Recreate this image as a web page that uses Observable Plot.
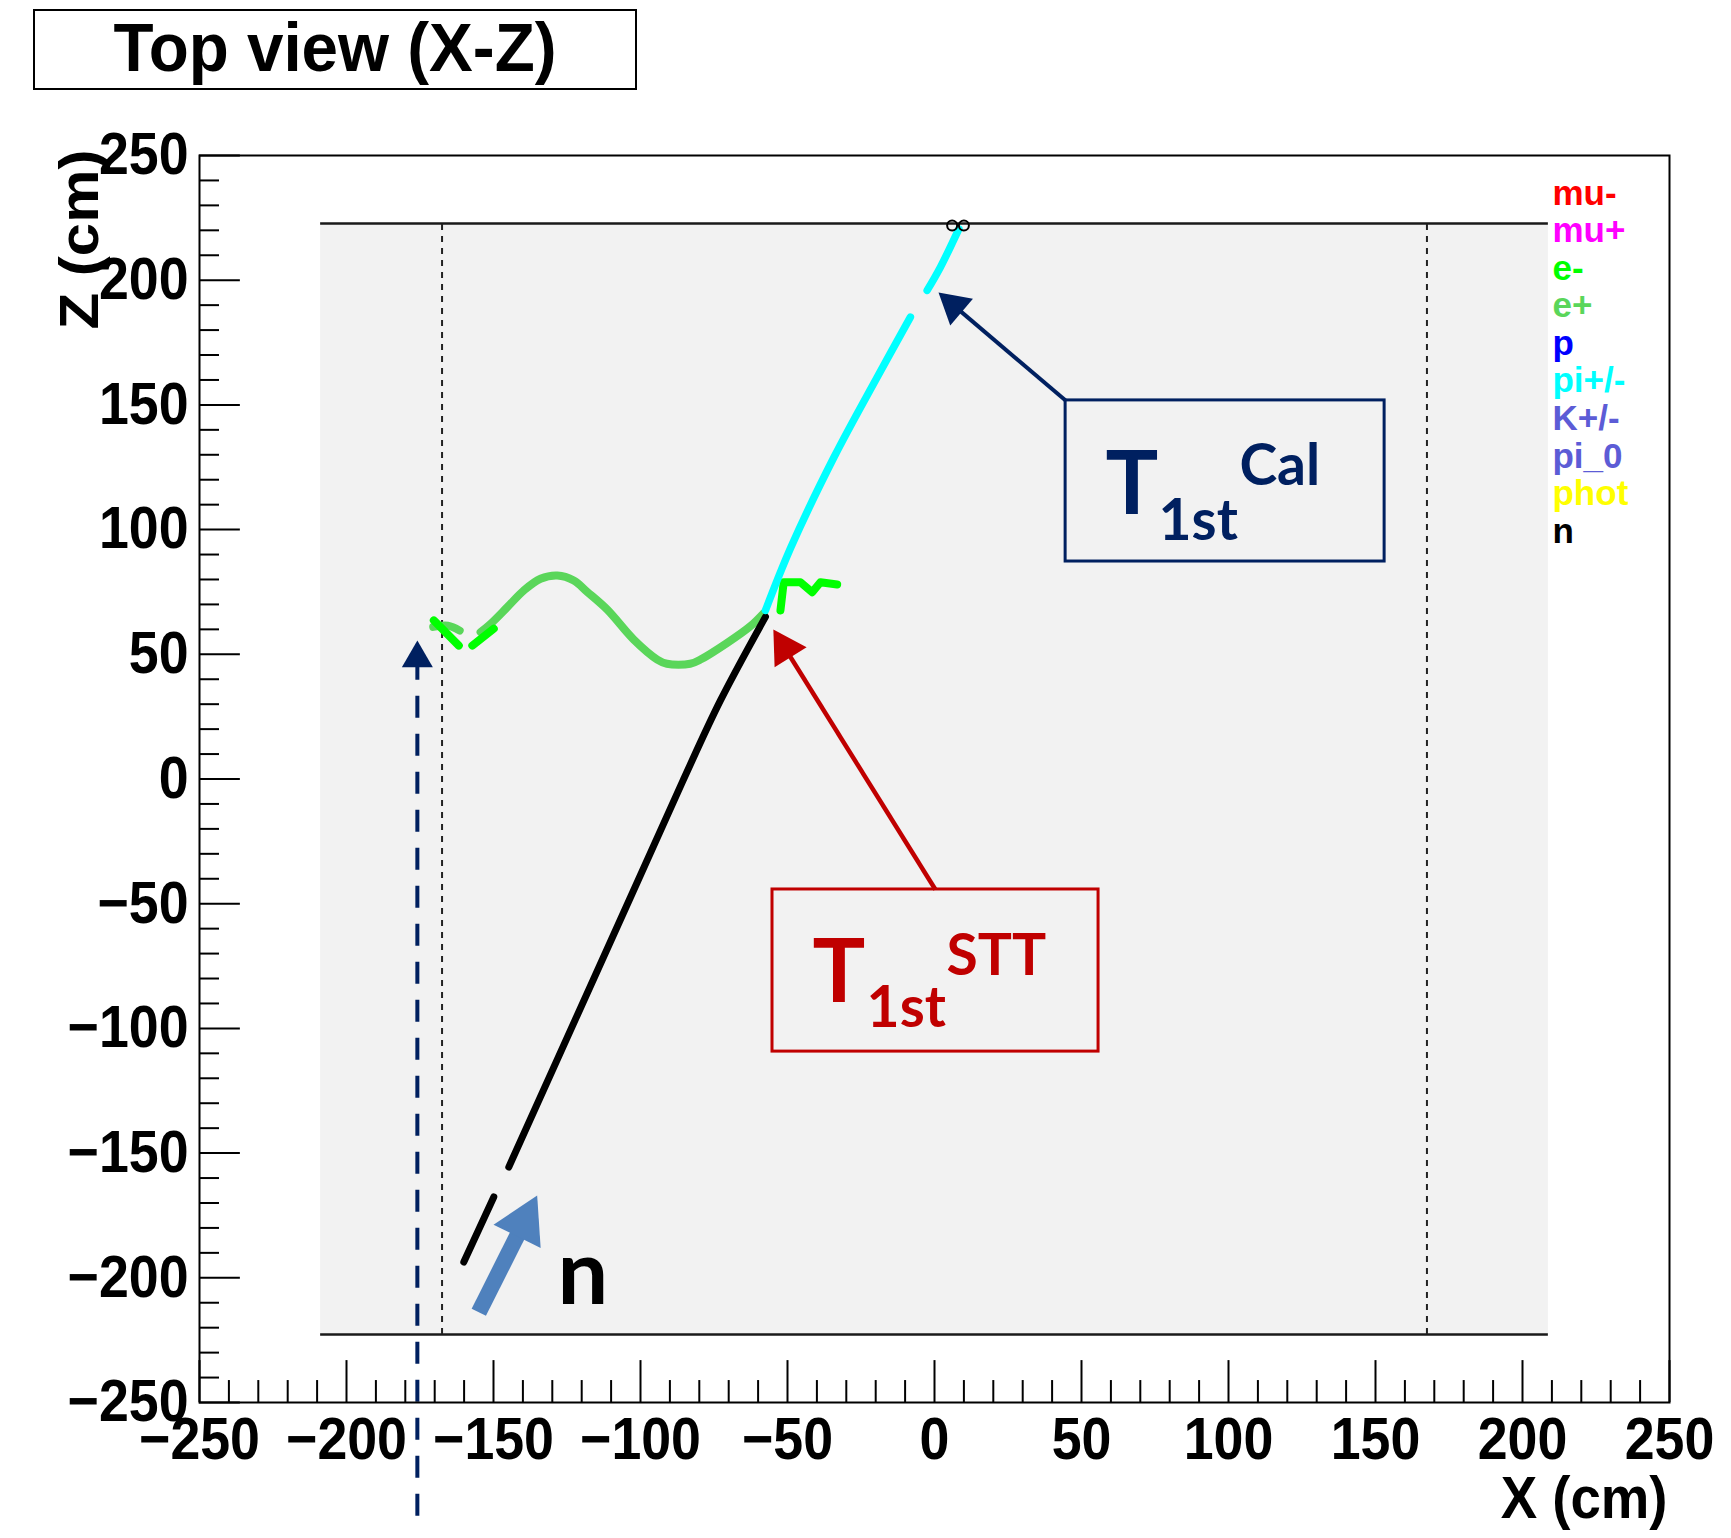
<!DOCTYPE html>
<html><head><meta charset="utf-8">
<script src="https://cdn.jsdelivr.net/npm/d3@7"></script>
<script src="https://cdn.jsdelivr.net/npm/@observablehq/plot@0.6"></script>
<style>
body{margin:0;background:#fff;}
#wrap{position:relative;width:1731px;height:1538px;}
#title{position:absolute;z-index:2;left:33px;top:9px;width:600px;height:77px;border:2px solid #000;background:#fff;}
#title span{position:absolute;left:0;right:0;top:2px;text-align:center;font:bold 69px "Liberation Sans",Arial,sans-serif;line-height:69px;transform:scaleX(0.95);white-space:nowrap;}
</style></head><body>
<div id="wrap"><div id="title"><span>Top view (X-Z)</span></div></div>
<script>
// ---------- axes ----------
const xMajor = [-250, -200, -150, -100, -50, 0, 50, 100, 150, 200, 250];
const yMajor = [-250, -200, -150, -100, -50, 0, 50, 100, 150, 200, 250];
const xMinor = d3.range(-250, 251, 10).filter(v => v % 50 !== 0);
const yMinor = d3.range(-250, 251, 10).filter(v => v % 50 !== 0);
const fmt = d => (d < 0 ? "\u2212" + Math.abs(d) : String(d));

// ---------- detector ----------
const detectorX = [-208.8, 208.8];
const detectorZ = [-222.7, 222.7];
const dashedX = [-167.5, 167.5];

// ---------- tracks (x, z in cm) ----------
const neutronSegs = [
  [[-160.1, -193.7], [-149.9, -167.6]],
  [[-144.8, -155.6], [-103.4, -47.4], [-85.3, 0.0], [-72.8, 31.5], [-57.5, 65.0]]
];
const pionSegs = [
  [[-57.5, 67.6], [-48.8, 93.0], [-34.2, 129.0], [-19.5, 161.1], [-8.2, 185.2]],
  [[-2.5, 195.9], [2.0, 205.2], [8.3, 220.6]]
];
const positronSegs = [
  [[-58.0, 66.6], [-62.6, 61.3], [-70.5, 54.6], [-79.6, 47.9], [-83.1, 46.2], [-91.0, 46.2],
   [-94.3, 47.9], [-102.3, 55.9], [-111.3, 67.9], [-118.1, 75.0], [-122.7, 79.6], [-128.3, 81.6],
   [-134.0, 80.3], [-139.7, 75.6], [-145.3, 68.9], [-151.0, 62.2], [-154.4, 58.9]],
  [[-170.5, 61.0], [-165.5, 61.5], [-161.5, 59.5]]
];
const electronSegs = [
  [[-170.3, 63.6], [-161.8, 53.5]],
  [[-157.2, 53.5], [-149.9, 60.3]],
  [[-52.4, 67.6], [-51.3, 78.9], [-45.6, 78.9], [-41.6, 74.9], [-38.8, 78.9], [-33.1, 78.0]]
];
const endX = [6.0, 10.0];
const endZ = [221.9, 221.9];

// ---------- legend ----------
const legendLabels = ["mu-", "mu+", "e-", "e+", "p", "pi+/-", "K+/-", "pi_0", "phot", "n"];
const legendColors = ["#ff0000", "#ff00ff", "#00ff00", "#5ad65a", "#0000ff", "#00ffff", "#5c5cd6", "#5c5cd6", "#ffff00", "#000000"];

// ---------- annotations ----------
const boxes = [
  {x1: 44.6, x2: 153.1, z1: 87.2, z2: 151.8, color: "#002060"},
  {x1: -55.1, x2: 55.8, z1: -109.3, z2: -44.3, color: "#c00000"}
];
const mainT = [{x: 58.2, z: 106.1, t: "T", color: "#002060"}, {x: -41.5, z: -89.6, t: "T", color: "#c00000"}];
const subT = [{x: 76.2, z: 96.0, t: "1st", color: "#002060"}, {x: -23.1, z: -99.6, t: "1st", color: "#c00000"}];
const supT = [{x: 103.7, z: 117.7, t: "Cal", color: "#002060"}, {x: 4.1, z: -78.4, t: "STT", color: "#c00000"}];
const calArrow = {x1: 44.6, z1: 151.8, x2: 6.6, z2: 189.8, rot: -49.6};
const sttArrow = {x1: 0.3, z1: -44.3, x2: -50.9, z2: 52.5, rot: -31.9};
const beamArrow = {x1: -155.0, z1: -213.8, x2: -139.7, z2: -177.9, rot: 26.2};
const vertArrow = {x: -175.9, z1: 48.4, z2: -300.0};
const nLabel = [{x: -128.2, z: -210.7, t: "n"}];

const rows = (segs, name) => segs.flatMap((s, k) => s.map(([x, z]) => ({x, z, seg: name + k})));
const FONT = '"Liberation Sans", Arial, sans-serif';
const CAL = 'Lato, "Open Sans", sans-serif';
const trackStyle = {x: "x", y: "z", z: "seg", strokeLinecap: "round", strokeLinejoin: "round"};

const chart = Plot.plot({
  width: 1731, height: 1538,
  marginLeft: 199, marginRight: 62, marginTop: 155, marginBottom: 136,
  x: {domain: [-250, 250]},
  y: {domain: [-250, 250]},
  color: {type: "identity"},
  style: {fontFamily: FONT, background: "white", overflow: "visible"},
  marks: [
    // detector region
    Plot.rect([0], {x1: detectorX[0], x2: detectorX[1], y1: detectorZ[0], y2: detectorZ[1], fill: "#f2f2f2"}),
    Plot.ruleY(detectorZ, {x1: detectorX[0], x2: detectorX[1], stroke: "#1a1a1a", strokeWidth: 2.5}),
    Plot.ruleX(dashedX, {y1: detectorZ[0], y2: detectorZ[1], stroke: "#222", strokeWidth: 2, strokeDasharray: "6,6"}),
    // inner ticks
    Plot.ruleY(yMajor, {x1: -250, x2: -236.1, stroke: "black", strokeWidth: 2}),
    Plot.ruleY(yMinor, {x1: -250, x2: -243.2, stroke: "black", strokeWidth: 2}),
    Plot.ruleX(xMajor, {y1: -250, y2: -233.2, stroke: "black", strokeWidth: 2}),
    Plot.ruleX(xMinor, {y1: -250, y2: -241.2, stroke: "black", strokeWidth: 2}),
    // tracks
    Plot.line(rows(positronSegs, "ep"), {...trackStyle, stroke: "#5ad65a", strokeWidth: 8, curve: "catmull-rom"}),
    Plot.line(rows(electronSegs, "em"), {...trackStyle, stroke: "#00ff00", strokeWidth: 8}),
    Plot.line(rows(neutronSegs, "n"), {...trackStyle, stroke: "black", strokeWidth: 7, curve: "catmull-rom"}),
    Plot.line(rows(pionSegs, "pi"), {...trackStyle, stroke: "#00ffff", strokeWidth: 7.5, curve: "catmull-rom"}),
    Plot.dot(endX.map((x, i) => ({x, z: endZ[i]})), {x: "x", y: "z", r: 5, stroke: "black", strokeWidth: 2, fill: "none"}),
    // legend
    Plot.text(legendLabels, {x: () => 210.2, y: (d, i) => 234.8 - i * 15.06, text: d => d, fill: (d, i) => legendColors[i],
      textAnchor: "start", lineAnchor: "middle", fontSize: 35, fontWeight: "bold", fontFamily: FONT}),
    // vertical dashed arrow
    Plot.ruleX([vertArrow], {x: "x", y1: "z1", y2: "z2", stroke: "#002060", strokeWidth: 4, strokeDasharray: "22,16"}),
    Plot.dot([vertArrow], {x: "x", y: "z1", r: 11.5, symbol: "triangle", fill: "#002060", stroke: "none"}),
    // callout boxes
    Plot.rect(boxes, {x1: "x1", x2: "x2", y1: "z1", y2: "z2", fill: "#f2f2f2", stroke: "color", strokeWidth: 3}),
    Plot.text(mainT, {x: "x", y: "z", text: "t", fill: "color", textAnchor: "start", lineAnchor: "bottom", fontSize: 88, fontWeight: "bold", fontFamily: CAL}),
    Plot.text(subT, {x: "x", y: "z", text: "t", fill: "color", textAnchor: "start", lineAnchor: "bottom", fontSize: 57, fontWeight: "bold", fontFamily: CAL}),
    Plot.text(supT, {x: "x", y: "z", text: "t", fill: "color", textAnchor: "start", lineAnchor: "bottom", fontSize: 57, fontWeight: "bold", fontFamily: CAL}),
    // callout arrows
    Plot.link([calArrow], {x1: "x1", y1: "z1", x2: "x2", y2: "z2", stroke: "#002060", strokeWidth: 4}),
    Plot.dot([calArrow], {x: "x2", y: "z2", r: 13, symbol: "triangle", rotate: "rot", fill: "#002060", stroke: "none"}),
    Plot.link([sttArrow], {x1: "x1", y1: "z1", x2: "x2", y2: "z2", stroke: "#c00000", strokeWidth: 4.5}),
    Plot.dot([sttArrow], {x: "x2", y: "z2", r: 14, symbol: "triangle", rotate: "rot", fill: "#c00000", stroke: "none"}),
    Plot.link([beamArrow], {x1: "x1", y1: "z1", x2: "x2", y2: "z2", stroke: "#4f81bd", strokeWidth: 16}),
    Plot.dot([beamArrow], {x: "x2", y: "z2", r: 19.5, symbol: "triangle", rotate: "rot", fill: "#4f81bd", stroke: "none"}),
    Plot.text(nLabel, {x: "x", y: "z", text: "t", fill: "black", textAnchor: "start", lineAnchor: "bottom", fontSize: 90, fontWeight: "bold", fontFamily: CAL}),
    // frame and axes
    Plot.frame({stroke: "black", strokeWidth: 2}),
    Plot.axisX(xMajor, {anchor: "bottom", tickSize: 0, tickPadding: 15, tickFormat: fmt, fontSize: 59, fontWeight: "bold", fontFamily: FONT, label: null}),
    Plot.axisY(yMajor, {anchor: "left", tickSize: 0, tickPadding: 11, tickFormat: fmt, fontSize: 59, fontWeight: "bold", fontFamily: FONT, label: null}),
    Plot.text(["Z (cm)"], {frameAnchor: "top-left", dx: -119, dy: -6, rotate: -90, text: d => d, textAnchor: "end", lineAnchor: "middle", fontSize: 60, fontWeight: "bold", fontFamily: FONT}),
    Plot.text(["X (cm)"], {frameAnchor: "bottom-right", dx: -2, dy: 96, text: d => d, textAnchor: "end", lineAnchor: "middle", fontSize: 60, fontWeight: "bold", fontFamily: FONT})
  ]
});
document.getElementById("wrap").appendChild(chart);
chart.style.position = "absolute";
chart.style.left = "0px";
chart.style.top = "0px";

// narrow the ROOT-style Helvetica labels (condensed look of the original)
const squeeze = (el, s) => {
  const t = el.getAttribute("transform") || "";
  el.setAttribute("transform", (t + " " + s).trim());
};
chart.querySelectorAll('g[aria-label="x-axis tick label"] text, g[aria-label="y-axis tick label"] text')
  .forEach(el => squeeze(el, "scale(0.91,1)"));
chart.querySelectorAll("text").forEach(el => {
  if (el.textContent === "X (cm)") squeeze(el, "scale(0.91,1)");
  if (el.textContent === "Z (cm)") squeeze(el, "scale(1,0.91)");
});
</script>
</body></html>
